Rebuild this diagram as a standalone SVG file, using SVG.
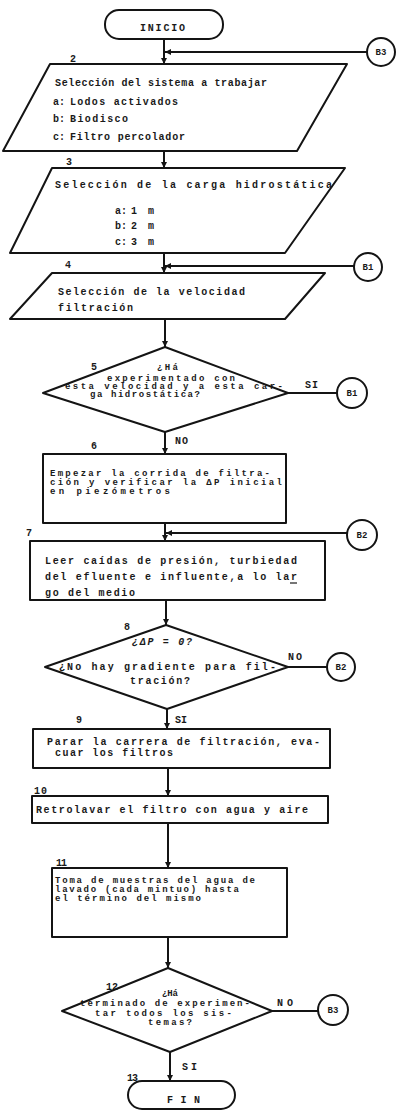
<svg xmlns="http://www.w3.org/2000/svg" width="396" height="1111" viewBox="0 0 396 1111">
<defs>
<style>
.s{fill:none;stroke:#141414;stroke-width:2;stroke-linejoin:round}
.t{font-family:"Liberation Mono","DejaVu Sans Mono",monospace;font-weight:bold;font-size:10px;fill:#1a1a1a}
.sm{font-size:9px}
.c{text-anchor:middle}
.ln{fill:none;stroke:#141414;stroke-width:2}
</style>
<marker id="ah" viewBox="0 0 6 6" refX="6" refY="3" markerWidth="6" markerHeight="6" markerUnits="userSpaceOnUse" orient="auto">
<path d="M0,0 L6,3 L0,6 z" fill="#141414"/>
</marker>
</defs>
<rect x="0" y="0" width="396" height="1111" fill="#ffffff"/>

<g id="connectors">
<line class="ln" x1="164" y1="39" x2="164" y2="64" marker-end="url(#ah)"/>
<line class="ln" x1="367" y1="52" x2="165" y2="52" marker-end="url(#ah)"/>
<line class="ln" x1="164" y1="151" x2="164" y2="168" marker-end="url(#ah)"/>
<line class="ln" x1="164" y1="253" x2="164" y2="273" marker-end="url(#ah)"/>
<line class="ln" x1="354" y1="266" x2="165" y2="266" marker-end="url(#ah)"/>
<line class="ln" x1="165" y1="319" x2="165" y2="347" marker-end="url(#ah)"/>
<line class="ln" x1="288" y1="393" x2="337" y2="393"/>
<line class="ln" x1="165" y1="432" x2="165" y2="454" marker-end="url(#ah)"/>
<line class="ln" x1="165" y1="523" x2="165" y2="541" marker-end="url(#ah)"/>
<line class="ln" x1="347" y1="533" x2="166" y2="533" marker-end="url(#ah)"/>
<line class="ln" x1="166" y1="600" x2="166" y2="625" marker-end="url(#ah)"/>
<line class="ln" x1="288" y1="667" x2="327" y2="667"/>
<line class="ln" x1="167" y1="709" x2="167" y2="729" marker-end="url(#ah)"/>
<line class="ln" x1="168" y1="768" x2="168" y2="796" marker-end="url(#ah)"/>
<line class="ln" x1="168" y1="823" x2="168" y2="868" marker-end="url(#ah)"/>
<line class="ln" x1="168" y1="937" x2="168" y2="968" marker-end="url(#ah)"/>
<line class="ln" x1="272" y1="1011" x2="318" y2="1011"/>
<line class="ln" x1="170" y1="1052" x2="170" y2="1081" marker-end="url(#ah)"/>
<text class="t" x="305" y="388" textLength="13">SI</text>
<text class="t" x="175" y="444" textLength="13">NO</text>
<text class="t" x="288" y="660" textLength="14">NO</text>
<text class="t" x="175" y="723" textLength="12">SI</text>
<text class="t" x="277" y="1006" textLength="16">NO</text>
<text class="t" x="182" y="1070" textLength="15">SI</text>
</g>

<g id="n1">
<rect class="s" x="105" y="10" width="118" height="29" rx="14"/>
<text class="t" x="140" y="31" textLength="45">INICIO</text>
</g>

<g id="b3top">
<circle class="s" cx="381" cy="52" r="14"/>
<text class="t sm c" x="381" y="55">B3</text>
</g>

<g id="n2">
<text class="t" x="70" y="62">2</text>
<polygon class="s" points="50,64 347,64 297,151 3,151"/>
<text class="t" x="55" y="86" textLength="212">Selección del sistema a trabajar</text>
<text class="t" x="53" y="105">a:</text><text class="t" x="70" y="105" textLength="108">Lodos activados</text>
<text class="t" x="53" y="122">b:</text><text class="t" x="70" y="122" textLength="58">Biodisco</text>
<text class="t" x="53" y="140">c:</text><text class="t" x="70" y="140" textLength="115">Filtro percolador</text>
</g>

<g id="n3">
<text class="t" x="66" y="165">3</text>
<polygon class="s" points="52,168 345,168 285,253 10,253"/>
<text class="t" x="55" y="188" textLength="277">Selección de la carga hidrostática</text>
<text class="t" x="115" y="214">a:</text><text class="t" x="131" y="214" textLength="23">1 m</text>
<text class="t" x="115" y="229">b:</text><text class="t" x="131" y="229" textLength="23">2 m</text>
<text class="t" x="115" y="245">c:</text><text class="t" x="131" y="245" textLength="23">3 m</text>
</g>

<g id="b1top">
<circle class="s" cx="368" cy="267" r="14"/>
<text class="t sm c" x="368" y="270">B1</text>
</g>

<g id="n4">
<text class="t" x="65" y="268">4</text>
<polygon class="s" points="52,273 325,273 285,319 10,319"/>
<text class="t" x="58" y="295" textLength="187">Selección de la velocidad</text>
<text class="t" x="58" y="311" textLength="75">filtración</text>
</g>

<g id="n5">
<text class="t" x="91" y="370">5</text>
<polygon class="s" points="165,347 288,393 165,432 43,393"/>
<text class="t sm" x="157" y="370" textLength="21">¿Há</text>
<text class="t sm" x="107" y="381" textLength="128">experimentado con</text>
<text class="t sm" x="65" y="389" textLength="218">esta velocidad y a esta car-</text>
<text class="t sm" x="90" y="397" textLength="110">ga hidrostática?</text>
</g>

<g id="b1mid">
<circle class="s" cx="352" cy="393" r="15"/>
<text class="t sm c" x="352" y="396">B1</text>
</g>

<g id="n6">
<text class="t" x="91" y="449">6</text>
<rect class="s" x="43" y="454" width="243" height="69"/>
<text class="t sm" x="50" y="476" textLength="220">Empezar la corrida de filtra-</text>
<text class="t sm" x="50" y="485" textLength="232">ción y verificar la ΔP inicial</text>
<text class="t sm" x="50" y="494" textLength="120">en piezómetros</text>
</g>

<g id="b2top">
<circle class="s" cx="362" cy="535" r="15"/>
<text class="t sm c" x="362" y="538">B2</text>
</g>

<g id="n7">
<text class="t" x="26" y="536">7</text>
<rect class="s" x="30" y="541" width="295" height="59"/>
<text class="t" x="45" y="564" textLength="252">Leer caídas de presión, turbiedad</text>
<text class="t" x="45" y="580" textLength="252">del efluente e influente,a lo lar</text>
<line x1="290" y1="583" x2="297" y2="583" stroke="#1a1a1a" stroke-width="1.2"/>
<text class="t" x="45" y="596" textLength="90">go del medio</text>
</g>

<g id="n8">
<text class="t" x="124" y="630">8</text>
<polygon class="s" points="166,625 288,667 167,709 45,667"/>
<text class="t" x="132" y="645" textLength="60" font-style="italic">¿ΔP = 0?</text>
<text class="t" x="59" y="670" textLength="217">¿No hay gradiente para fil-</text>
<text class="t" x="130" y="684" textLength="60">tración?</text>
</g>

<g id="b2mid">
<circle class="s" cx="341" cy="667" r="14"/>
<text class="t sm c" x="341" y="670">B2</text>
</g>

<g id="n9">
<text class="t" x="76" y="723">9</text>
<rect class="s" x="33" y="729" width="297" height="39"/>
<text class="t" x="47" y="745" textLength="273">Parar la carrera de filtración, eva-</text>
<text class="t" x="55" y="756" textLength="118">cuar los filtros</text>
</g>

<g id="n10">
<text class="t" x="34" y="794" textLength="13">10</text>
<rect class="s" x="32" y="796" width="296" height="27"/>
<text class="t" x="36" y="813" textLength="272">Retrolavar el filtro con agua y aire</text>
</g>

<g id="n11">
<text class="t" x="56" y="866" textLength="11">11</text>
<rect class="s" x="52" y="868" width="235" height="69"/>
<text class="t sm" x="55" y="883" textLength="200">Toma de muestras del agua de</text>
<text class="t sm" x="55" y="892" textLength="184">lavado (cada mintuo) hasta</text>
<text class="t sm" x="55" y="901" textLength="146">el término del mismo</text>
</g>

<g id="n12">
<text class="t" x="106" y="990" textLength="12">12</text>
<polygon class="s" points="168,968 272,1011 170,1052 62,1011"/>
<text class="t sm" x="162" y="996" textLength="16">¿Há</text>
<text class="t sm" x="80" y="1006" textLength="170">terminado de experimen-</text>
<text class="t sm" x="95" y="1016" textLength="137">tar todos los sis-</text>
<text class="t sm" x="148" y="1025" textLength="44">temas?</text>
</g>

<g id="b3bot">
<circle class="s" cx="333" cy="1010" r="15"/>
<text class="t sm c" x="333" y="1013">B3</text>
</g>

<g id="n13">
<text class="t" x="127" y="1081" textLength="11">13</text>
<rect class="s" x="128" y="1081" width="107" height="28" rx="14"/>
<text class="t" x="167" y="1103" textLength="33">F I N</text>
</g>
</svg>
